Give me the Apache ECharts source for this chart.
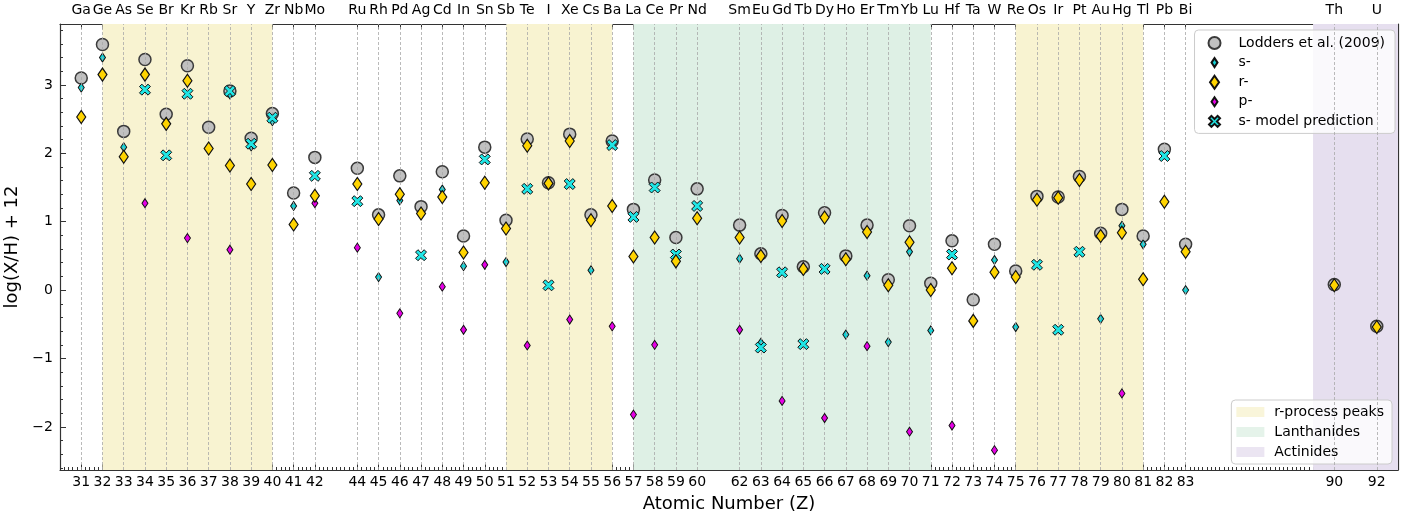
<!DOCTYPE html>
<html>
<head>
<meta charset="utf-8">
<script src="https://cdn.jsdelivr.net/npm/echarts@6/dist/echarts.min.js"></script>
<style>
  html, body { margin: 0; padding: 0; background: #fff; }
  #chart { width: 1416px; height: 517px; }
</style>
</head>
<body>
<div id="chart"></div>
<script>
// Atomic numbers plotted along the x axis and their element symbols
const zValues = [
  31, 32, 33, 34, 35, 36, 37, 38, 39, 40, 41, 42,
  44, 45, 46, 47, 48, 49, 50, 51, 52, 53, 54, 55, 56, 57, 58, 59, 60,
  62, 63, 64, 65, 66, 67, 68, 69, 70, 71, 72, 73, 74, 75, 76, 77, 78, 79, 80, 81, 82, 83,
  90, 92
];
const elementSymbols = [
  'Ga', 'Ge', 'As', 'Se', 'Br', 'Kr', 'Rb', 'Sr', 'Y', 'Zr', 'Nb', 'Mo',
  'Ru', 'Rh', 'Pd', 'Ag', 'Cd', 'In', 'Sn', 'Sb', 'Te', 'I', 'Xe', 'Cs', 'Ba', 'La', 'Ce', 'Pr', 'Nd',
  'Sm', 'Eu', 'Gd', 'Tb', 'Dy', 'Ho', 'Er', 'Tm', 'Yb', 'Lu', 'Hf', 'Ta', 'W', 'Re', 'Os', 'Ir', 'Pt', 'Au', 'Hg', 'Tl', 'Pb', 'Bi',
  'Th', 'U'
];

// Solar abundances, log(X/H) + 12 (null = not shown)
const lodders = [
  3.10, 3.59, 2.32, 3.37, 2.57, 3.28, 2.38, 2.91, 2.22, 2.58, 1.42, 1.94,
  1.78, 1.10, 1.67, 1.22, 1.73, 0.79, 2.09, 1.02, 2.21, 1.57, 2.28, 1.10, 2.18, 1.18, 1.61, 0.77, 1.48,
  0.95, 0.53, 1.09, 0.34, 1.13, 0.50, 0.95, 0.15, 0.94, 0.10, 0.72, -0.14, 0.67, 0.28, 1.37, 1.36, 1.66, 0.83, 1.18, 0.79, 2.06, 0.67,
  0.08, -0.53
];
const sProcess = [
  2.96, 3.40, 2.09, null, null, null, null, 2.86, 2.10, 2.47, 1.23, null,
  null, 0.19, 1.31, null, 1.47, 0.35, null, 0.41, null, null, null, 0.29, null, null, null, 0.49, null,
  0.46, -0.77, null, null, null, -0.65, 0.21, -0.76, 0.56, -0.59, null, null, 0.44, -0.54, null, null, null, -0.42, 0.94, 0.67, null, 0.00,
  null, null
];
const rProcess = [
  2.53, 3.15, 1.95, 3.15, 2.43, 3.06, 2.07, 1.82, 1.55, 1.83, 0.96, 1.38,
  1.55, 1.04, 1.40, 1.12, 1.36, 0.55, 1.57, 0.90, 2.11, 1.56, 2.18, 1.02, 1.23, 0.49, 0.77, 0.42, 1.05,
  0.77, 0.50, 1.01, 0.31, 1.06, 0.45, 0.85, 0.07, 0.70, 0.00, 0.32, -0.45, 0.26, 0.19, 1.32, 1.35, 1.61, 0.79, 0.84, 0.16, 1.29, 0.56,
  0.07, -0.54
];
const pProcess = [
  null, null, null, 1.27, null, 0.76, null, 0.59, null, null, null, 1.27,
  0.62, null, -0.34, null, 0.05, -0.58, 0.37, null, -0.81, null, -0.43, null, -0.53, -1.82, -0.80, null, null,
  -0.58, null, -1.62, null, -1.87, null, -0.82, null, -2.07, null, -1.98, null, -2.34, null, null, null, null, null, -1.51, null, null, null,
  null, null
];
const sModel = [
  null, null, null, 2.93, 1.97, 2.87, null, 2.91, 2.14, 2.52, null, 1.67,
  1.30, null, null, 0.51, null, null, 1.91, null, 1.48, 0.07, 1.55, null, 2.12, 1.07, 1.50, 0.52, 1.23,
  null, -0.84, 0.26, -0.79, 0.31, null, null, null, null, null, 0.52, null, null, null, 0.37, -0.58, 0.56, null, null, null, 1.96, null,
  null, null
];

// Shaded Z ranges
const rPeakSpans = [[32, 40], [51, 56], [75, 81]];
const lanthanideSpans = [[57, 71]];
const actinideSpans = [[89, 93]];

// Axis ranges and y tick labels
const xRange = [30, 93];
const yRange = [-2.63, 3.89];
const yMajorTicks = [-2, -1, 0, 1, 2, 3];

const yMinorTicks = [];
for (let k = -13; k <= 19; k++) {
  const v = Math.round(k * 2) / 10;
  if (Math.abs(v - Math.round(v)) > 1e-9) yMinorTicks.push(v);
}

const FONT = 'DejaVu Sans';
const AXIS_COLOR = '#333';

function pairs(values) {
  return zValues.map((z, i) => (values[i] == null ? null : [z, values[i]])).filter(Boolean);
}

// Thick "X" marker outline centred on (cx, cy) with size s
function crossPath(cx, cy, s) {
  const u = [[2.2,0],[5,2.8],[7.8,0],[10,2.2],[7.2,5],[10,7.8],[7.8,10],[5,7.2],[2.2,10],[0,7.8],[2.8,5],[0,2.2]];
  const k = s / 10;
  return u.map((p, i) => (i ? 'L' : 'M') + (cx - s / 2 + p[0] * k).toFixed(2) + ',' + (cy - s / 2 + p[1] * k).toFixed(2)).join('') + 'Z';
}

const crossSymbol = 'path://' + crossPath(5, 5, 10);
// Legend icons sit in a 30x14 box so their sizes differ like the plotted markers
const iconBox = 'M0,0M30,14';
const icons = {
  circle: 'path://' + iconBox + 'M17,7A6,6,0,1,1,5,7A6,6,0,1,1,17,7Z',
  small: 'path://' + iconBox + 'M11,2.5L14,7L11,11.5L8,7Z',
  big: 'path://' + iconBox + 'M11,0.5L15.5,7L11,13.5L6.5,7Z',
  cross: 'path://' + iconBox + crossPath(11, 7, 11)
};

const spanAreas = (spans) => spans.map(s => [{ xAxis: s[0] }, { xAxis: s[1] }]);

const regionColors = {
  peaks: '#f8f3d1',
  lanth: '#def0e5',
  act: '#e6dfef'
};

function regionSeries(name, spans, color) {
  return {
    name, type: 'scatter', data: [], z: 1, silent: true,
    itemStyle: { color },
    markArea: { silent: true, itemStyle: { color, opacity: 1 }, data: spanAreas(spans) }
  };
}

const labelStyle = { fontFamily: FONT, fontSize: 14, color: '#000' };

const chart = echarts.init(document.getElementById('chart'), null, { renderer: 'canvas' });
chart.setOption({
  animation: false,
  backgroundColor: '#fff',
  grid: { left: 60, right: 18, top: 24, bottom: 47, containLabel: false, outerBoundsMode: 'none' },
  xAxis: [
    {
      type: 'value', position: 'bottom', min: xRange[0], max: xRange[1], interval: 1,
      name: 'Atomic Number (Z)', nameLocation: 'middle', nameGap: 25,
      nameTextStyle: { fontFamily: FONT, fontSize: 18, color: '#000' },
      axisLine: { show: true, onZero: false, lineStyle: { color: AXIS_COLOR, width: 1.2 } },
      axisTick: { show: true, inside: true, length: 3, lineStyle: { color: AXIS_COLOR } },
      minorTick: { show: true, splitNumber: 5, length: 3, lineStyle: { color: AXIS_COLOR } },
      axisLabel: Object.assign({ customValues: zValues, margin: 5 }, labelStyle),
      splitLine: { show: false }
    },
    {
      type: 'value', position: 'top', min: xRange[0], max: xRange[1],
      axisLine: { show: true, onZero: false, lineStyle: { color: AXIS_COLOR, width: 1.2 } },
      axisTick: { show: true, inside: true, length: 5, customValues: zValues, lineStyle: { color: AXIS_COLOR } },
      axisLabel: Object.assign({
        customValues: zValues, margin: 7,
        formatter: v => elementSymbols[zValues.indexOf(Math.round(v))] || ''
      }, labelStyle),
      splitLine: { show: false }
    },
    {
      type: 'value', position: 'bottom', min: xRange[0], max: xRange[1],
      axisLine: { show: false, onZero: false },
      axisTick: { show: true, inside: true, length: 6, customValues: zValues, lineStyle: { color: AXIS_COLOR } },
      axisLabel: { show: false },
      splitLine: { show: false }
    }
  ],
  yAxis: [
    {
      type: 'value', position: 'left', min: yRange[0], max: yRange[1],
      name: 'log(X/H) + 12', nameLocation: 'middle', nameGap: 28,
      nameTextStyle: { fontFamily: FONT, fontSize: 18, color: '#000' },
      axisLine: { show: true, onZero: false, lineStyle: { color: AXIS_COLOR, width: 1.2 } },
      axisTick: { show: true, inside: true, length: 6, customValues: yMajorTicks, lineStyle: { color: AXIS_COLOR } },
      axisLabel: Object.assign({
        customValues: yMajorTicks, margin: 7,
        formatter: v => (v < 0 ? '\u2212' + Math.abs(v) : String(v))
      }, labelStyle),
      splitLine: { show: false }
    },
    {
      type: 'value', position: 'left', min: yRange[0], max: yRange[1],
      axisLine: { show: false, onZero: false },
      axisTick: { show: true, inside: true, length: 3, customValues: yMinorTicks, lineStyle: { color: AXIS_COLOR } },
      axisLabel: { show: false }, splitLine: { show: false }
    },
    {
      type: 'value', position: 'right', min: yRange[0], max: yRange[1],
      axisLine: { show: true, onZero: false, lineStyle: { color: AXIS_COLOR, width: 1.2 } },
      axisTick: { show: true, inside: true, length: 6, customValues: yMajorTicks, lineStyle: { color: AXIS_COLOR } },
      axisLabel: { show: false }, splitLine: { show: false }
    },
    {
      type: 'value', position: 'right', min: yRange[0], max: yRange[1],
      axisLine: { show: false, onZero: false },
      axisTick: { show: true, inside: true, length: 3, customValues: yMinorTicks, lineStyle: { color: AXIS_COLOR } },
      axisLabel: { show: false }, splitLine: { show: false }
    }
  ],
  legend: [
    {
      orient: 'vertical', right: 21, top: 30,
      padding: [5, 10, 4, 8], itemGap: 3.6, itemWidth: 30, itemHeight: 14,
      backgroundColor: 'rgba(255,255,255,0.8)', borderColor: '#cccccc', borderWidth: 1, borderRadius: 4,
      textStyle: labelStyle,
      selectedMode: false,
      data: [
        { name: 'Lodders et al. (2009)', icon: icons.circle },
        { name: 's-', icon: icons.small },
        { name: 'r-', icon: icons.big },
        { name: 'p-', icon: icons.small },
        { name: 's- model prediction', icon: icons.cross }
      ]
    },
    {
      orient: 'vertical', right: 24, bottom: 53,
      padding: [5, 8, 5, 5], itemGap: 6, itemWidth: 28, itemHeight: 10,
      backgroundColor: 'rgba(255,255,255,0.8)', borderColor: '#cccccc', borderWidth: 1, borderRadius: 4,
      textStyle: Object.assign({ padding: [0, 0, 0, 5] }, labelStyle),
      selectedMode: false,
      data: [
        { name: 'r-process peaks', icon: 'rect' },
        { name: 'Lanthanides', icon: 'rect' },
        { name: 'Actinides', icon: 'rect' }
      ]
    }
  ],
  series: [
    regionSeries('r-process peaks', rPeakSpans, regionColors.peaks),
    regionSeries('Lanthanides', lanthanideSpans, regionColors.lanth),
    regionSeries('Actinides', actinideSpans, regionColors.act),
    {
      name: 'element grid', type: 'scatter', data: [], z: 2, silent: true,
      markLine: {
        silent: true, symbol: ['none', 'none'], label: { show: false },
        lineStyle: { color: '#a8a8a8', width: 0.8, type: [3, 2] },
        data: zValues.map(z => ({ xAxis: z }))
      }
    },
    {
      name: 'Lodders et al. (2009)', type: 'scatter', z: 3, data: pairs(lodders),
      symbol: 'circle', symbolSize: 12,
      itemStyle: { color: '#c0c0c0', borderColor: '#3a3a3a', borderWidth: 1.5, opacity: 1 }
    },
    {
      name: 's-', type: 'scatter', z: 4, data: pairs(sProcess),
      symbol: 'diamond', symbolSize: [6, 9],
      itemStyle: { color: '#14d2d6', borderColor: '#111', borderWidth: 1, opacity: 1 }
    },
    {
      name: 'p-', type: 'scatter', z: 5, data: pairs(pProcess),
      symbol: 'diamond', symbolSize: [6, 9],
      itemStyle: { color: '#e600e6', borderColor: '#111', borderWidth: 1, opacity: 1 }
    },
    {
      name: 's- model prediction', type: 'scatter', z: 6, data: pairs(sModel),
      symbol: crossSymbol, symbolSize: 11,
      itemStyle: { color: '#1fe6e6', borderColor: '#111', borderWidth: 1, opacity: 1 }
    },
    {
      name: 'r-', type: 'scatter', z: 7, data: pairs(rProcess),
      symbol: 'diamond', symbolSize: [9, 13],
      itemStyle: { color: '#ffd400', borderColor: '#111', borderWidth: 1.2, opacity: 1 }
    }
  ]
});
</script>
</body>
</html>
